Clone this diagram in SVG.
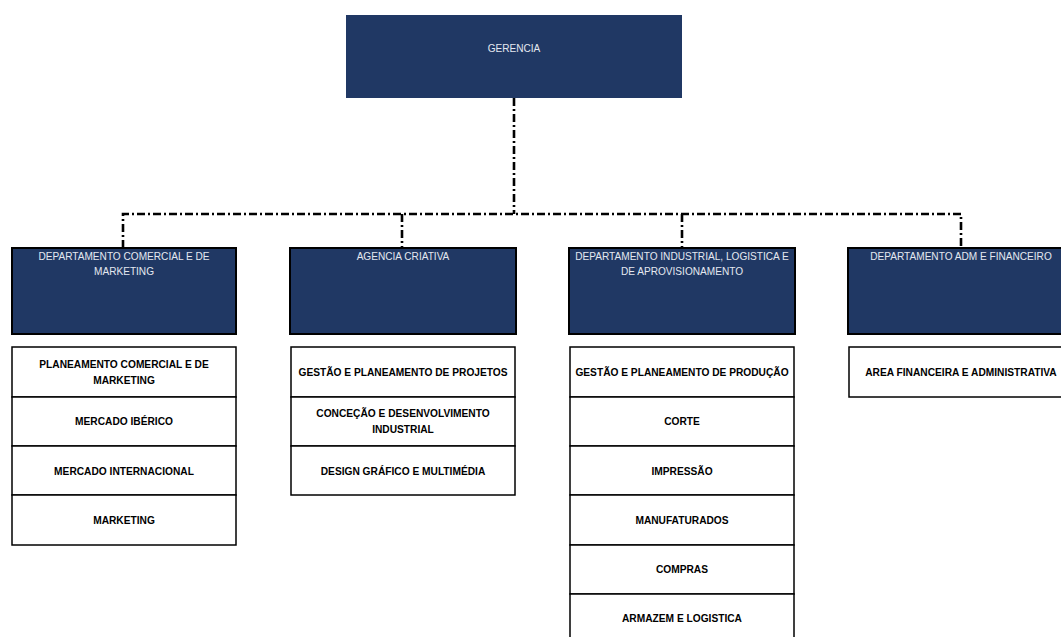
<svg xmlns="http://www.w3.org/2000/svg" width="1061" height="637" viewBox="0 0 1061 637">
  <style>
    .top { fill: #203864; }
    .dept { fill: #203864; stroke: #000; stroke-width: 2; }
    .unit { fill: #fff; stroke: #000; stroke-width: 1.5; }
    .dt { font-family: "Liberation Sans", Arial, sans-serif; font-size: 10.1px; fill: #e4e8f0; text-anchor: middle; }
    .ut { font-family: "Liberation Sans", Arial, sans-serif; font-size: 10.2px; font-weight: bold; fill: #000; text-anchor: middle; }
    .link { fill: none; stroke: #000; stroke-width: 2.6; stroke-dasharray: 8 3 2 3; }
  </style>
  <rect width="1061" height="637" fill="#fff"/>

  <!-- connectors -->
  <g id="connectors">
    <path class="link" d="M514 98 V214"/>
    <path class="link" d="M123 248 V214 H961 V248"/>
    <path class="link" d="M402 214 V248"/>
    <path class="link" d="M682 214 V248"/>
  </g>

  <!-- top node -->
  <g id="gerencia">
    <rect class="top" x="346" y="15" width="336" height="83"/>
    <text class="dt" x="514" y="51.5">GERENCIA</text>
  </g>

  <!-- commercial & marketing -->
  <g id="dep-comercial">
    <rect class="dept" x="12" y="248" width="224" height="86"/>
    <text class="dt" x="124" y="259.5">DEPARTAMENTO COMERCIAL E DE</text>
    <text class="dt" x="124" y="275">MARKETING</text>
  </g>
  <g id="units-comercial">
    <rect class="unit" x="12" y="347" width="224" height="50"/>
    <text class="ut" x="124" y="368">PLANEAMENTO COMERCIAL E DE</text>
    <text class="ut" x="124" y="384">MARKETING</text>
    <rect class="unit" x="12" y="397" width="224" height="49"/>
    <text class="ut" x="124" y="425">MERCADO IBÉRICO</text>
    <rect class="unit" x="12" y="446" width="224" height="49"/>
    <text class="ut" x="124" y="474.5">MERCADO INTERNACIONAL</text>
    <rect class="unit" x="12" y="495" width="224" height="50"/>
    <text class="ut" x="124" y="523.5">MARKETING</text>
  </g>

  <!-- creative agency -->
  <g id="dep-agencia">
    <rect class="dept" x="290" y="248" width="226" height="86"/>
    <text class="dt" x="403" y="259.5">AGENCIA CRIATIVA</text>
  </g>
  <g id="units-agencia">
    <rect class="unit" x="291" y="347" width="224" height="50"/>
    <text class="ut" x="403" y="375.5">GESTÃO E PLANEAMENTO DE PROJETOS</text>
    <rect class="unit" x="291" y="397" width="224" height="49"/>
    <text class="ut" x="403" y="417">CONCEÇÃO E DESENVOLVIMENTO</text>
    <text class="ut" x="403" y="433">INDUSTRIAL</text>
    <rect class="unit" x="291" y="446" width="224" height="49"/>
    <text class="ut" x="403" y="474.5">DESIGN GRÁFICO E MULTIMÉDIA</text>
  </g>

  <!-- industrial, logistics & procurement -->
  <g id="dep-industrial">
    <rect class="dept" x="569" y="248" width="226" height="86"/>
    <text class="dt" x="682" y="259.5">DEPARTAMENTO INDUSTRIAL, LOGISTICA E</text>
    <text class="dt" x="682" y="275">DE APROVISIONAMENTO</text>
  </g>
  <g id="units-industrial">
    <rect class="unit" x="570" y="347" width="224" height="50"/>
    <text class="ut" x="682" y="375.5">GESTÃO E PLANEAMENTO DE PRODUÇÃO</text>
    <rect class="unit" x="570" y="397" width="224" height="49"/>
    <text class="ut" x="682" y="425">CORTE</text>
    <rect class="unit" x="570" y="446" width="224" height="49"/>
    <text class="ut" x="682" y="474.5">IMPRESSÃO</text>
    <rect class="unit" x="570" y="495" width="224" height="50"/>
    <text class="ut" x="682" y="523.5">MANUFATURADOS</text>
    <rect class="unit" x="570" y="545" width="224" height="49"/>
    <text class="ut" x="682" y="573">COMPRAS</text>
    <rect class="unit" x="570" y="594" width="224" height="50"/>
    <text class="ut" x="682" y="622">ARMAZEM E LOGISTICA</text>
  </g>

  <!-- administration & finance -->
  <g id="dep-adm">
    <rect class="dept" x="848" y="248" width="226" height="86"/>
    <text class="dt" x="961" y="259.5">DEPARTAMENTO ADM E FINANCEIRO</text>
  </g>
  <g id="units-adm">
    <rect class="unit" x="849" y="347" width="224" height="50"/>
    <text class="ut" x="961" y="375.5">AREA FINANCEIRA E ADMINISTRATIVA</text>
  </g>
</svg>
